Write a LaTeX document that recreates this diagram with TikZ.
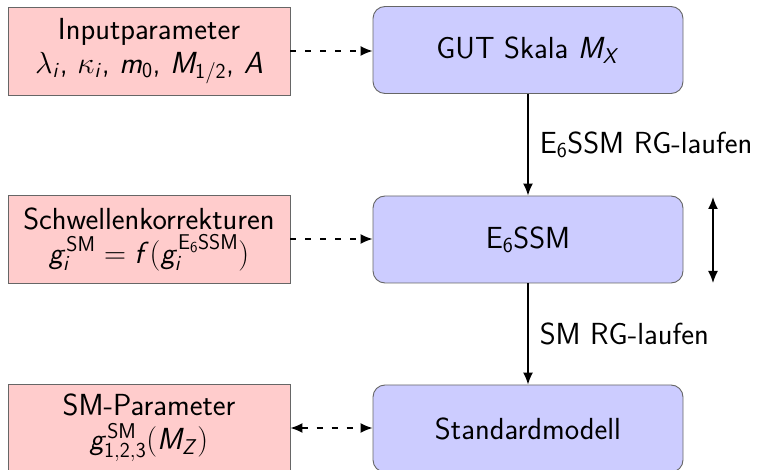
\RequirePackage{fix-cm}
\documentclass[tikz,border=0pt]{standalone}
\usepackage{amsmath}
\usetikzlibrary{arrows.meta}
\DeclareMathAlphabet{\msi}{OT1}{cmss}{m}{sl}
\DeclareMathAlphabet{\msu}{OT1}{cmss}{m}{n}
\begin{document}
\begin{tikzpicture}[x=1pt,y=-1pt,
  every node/.style={font=\sffamily\fontsize{30.5}{34}\selectfont},
  inbox/.style={draw=black!60,line width=0.9pt,fill=red!20,minimum width=282pt,minimum height=88pt,align=center,inner sep=0pt},
  stagebox/.style={draw=black!60,line width=0.9pt,fill=blue!20,rounded corners=12pt,minimum width=310pt,minimum height=87pt,align=center,inner sep=0pt},
  flow/.style={line width=1.5pt,-{Latex[length=12pt,width=10pt]}},
  dflow/.style={line width=1.5pt,dash pattern=on 6pt off 9pt,-{Latex[length=12pt,width=10pt]}},
  both/.style={{Latex[length=12pt,width=10pt]}-{Latex[length=12pt,width=10pt]}}]
\useasboundingbox (0,0) rectangle (758,470);
\node[inbox] (inp) at (149,51) {Inputparameter\\$\lambda_{\msi{i}}$, $\kappa_{\msi{i}}$, $\msi{m}_{\msu{0}}$, $\msi{M}_{\msu{1/2}}$, $\msi{A}$};
\node[inbox] (thr) at (149,239) {Schwellenkorrekturen\\$\msi{g}_{\msi{i}}^{\msu{SM}} = \msi{f}(\msi{g}_{\msi{i}}^{\msu{E}_{\msu{6}}\msu{SSM}})$};
\node[inbox] (smp) at (149,428) {SM-Parameter\\$\msi{g}^{\msu{SM}}_{\msu{1,2,3}}(\msi{M}_{\msi{Z}})$};
\node[stagebox] (gut) at (528,50) {GUT Skala $\msi{M}_{\msi{X}}$};
\node[stagebox] (e6) at (528,239.5) {E$_{\msu{6}}$SSM};
\node[stagebox] (sm) at (528,428.5) {Standardmodell};
\draw[flow] (gut) -- (e6) node[midway,right=11pt,inner sep=0pt] {E$_{\msu{6}}$SSM RG-laufen};
\draw[flow] (e6) -- (sm) node[midway,right=11pt,inner sep=0pt] {SM RG-laufen};
\draw[dflow] (inp) -- (gut.west |- inp);
\draw[dflow] (thr) -- (e6.west |- thr);
\draw[dflow,both] (smp) -- (sm.west |- smp);
\coordinate (dt) at (713,197);
\coordinate (db) at (713,283);
\draw[flow,both] (dt) -- (db);
\end{tikzpicture}
\end{document}
